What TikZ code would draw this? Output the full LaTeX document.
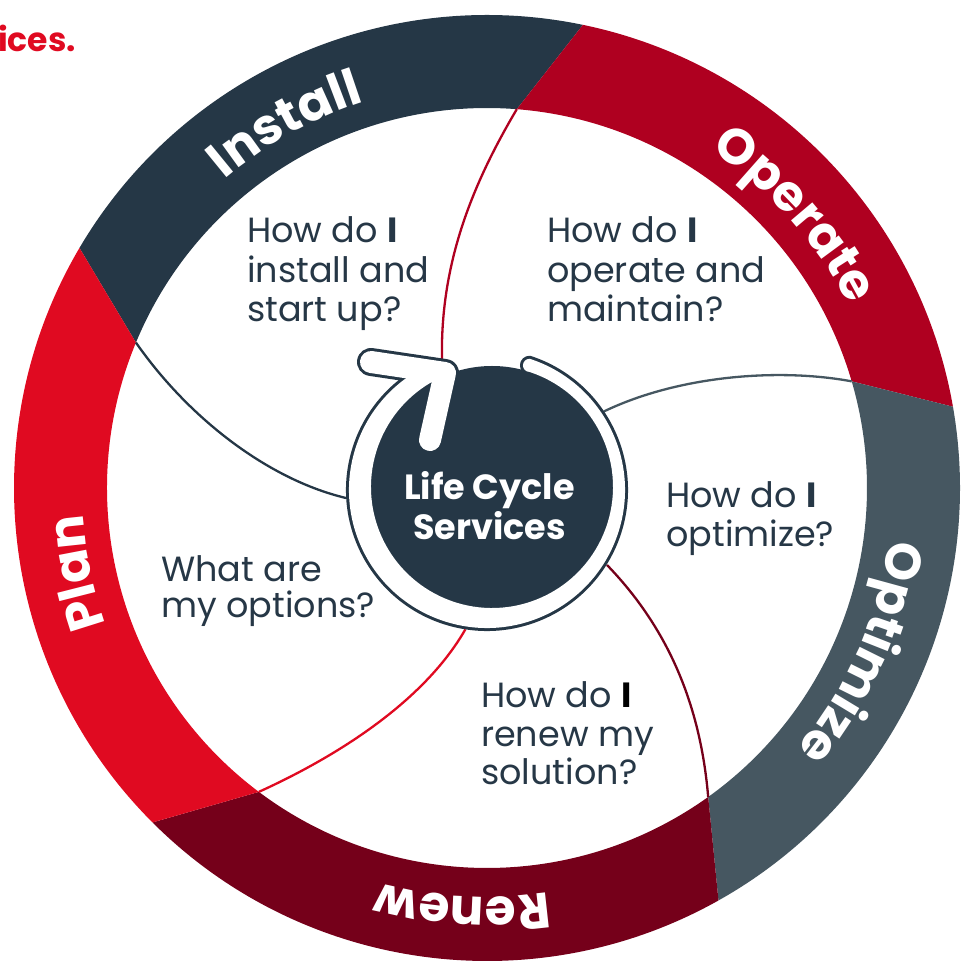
\documentclass[tikz,border=0pt]{standalone}
\usepackage{fontspec}
\setmainfont{Poppins}
\usetikzlibrary{decorations.text,calc}
\definecolor{cnavy}{HTML}{253746}
\definecolor{ccrimson}{HTML}{AF0020}
\definecolor{cslate}{HTML}{465761}
\definecolor{cmaroon}{HTML}{75001A}
\definecolor{cred}{HTML}{E00A21}
\definecolor{qnavy}{HTML}{263746}
\newcommand\lblfont{\bfseries\fontsize{50}{50}\selectfont}
\tikzset{
  qtext/.style={font=\fontsize{35}{39}\selectfont, text=qnavy, anchor=base west, inner sep=0pt},
  ctext/.style={font=\bfseries\fontsize{35}{40}\selectfont, text=white, anchor=base, inner sep=0pt},
  conn/.style={line width=2.3pt},
  seglabel/.style={decorate, decoration={text along path, text={|\lblfont|#1}, text align=center, text color=white}}
}
\begin{document}
\begin{tikzpicture}[x=1pt,y=1pt]
\useasboundingbox (-487,-475) rectangle (488,488);

% ring segments
\fill[cnavy] (149.5:473) arc[start angle=149.5,end angle=78.3,radius=473] -- (85.5:380) arc[start angle=85.5,end angle=157.5,radius=380] -- cycle;
\fill[ccrimson] (78.3:473) arc[start angle=78.3,end angle=9.9,radius=473] -- (16.3:380) arc[start angle=16.3,end angle=85.5,radius=380] -- cycle;
\fill[cslate] (9.9:473) arc[start angle=9.9,end angle=-60.7,radius=473] -- (-54.4:380) arc[start angle=-54.4,end angle=16.3,radius=380] -- cycle;
\fill[cmaroon] (-60.7:473) arc[start angle=-60.7,end angle=-135,radius=473] -- (-126.9:380) arc[start angle=-126.9,end angle=-54.4,radius=380] -- cycle;
\fill[cred] (-135:473) arc[start angle=-135,end angle=-210.5,radius=473] -- (-202.5:380) arc[start angle=-202.5,end angle=-126.9,radius=380] -- cycle;

% segment labels
\path[seglabel=Install] (159:405) arc[start angle=159,end angle=79,radius=405];
\path[seglabel=Operate] (81.6:405) arc[start angle=81.6,end angle=1.6,radius=405];
\path[seglabel=Optimize] (16.3:405) arc[start angle=16.3,end angle=-63.7,radius=405];
\path[seglabel=Renew] (-53.4:409) arc[start angle=-53.4,end angle=-133.4,radius=409];
\path[seglabel=Plan] (231.7:405) arc[start angle=231.7,end angle=151.7,radius=405];

% connector coordinates
\coordinate (b1) at (157.5:380);
\coordinate (b2) at (85.5:380);
\coordinate (b3) at (16.3:380);
\coordinate (b4) at (-54.4:380);
\coordinate (b5) at (-126.9:380);
\coordinate (e1) at (-141,-10);
\coordinate (e2) at (-45,129);
\coordinate (e3) at (117,76.6);
\coordinate (e4) at (120,-77);
\coordinate (e5) at (-21.6,-141.3);

\draw[conn, cnavy] (b1) .. controls (-297,68) and (-217,8) .. (e1);
\draw[conn, ccrimson] (b2) .. controls (-12,308) and (-47,228) .. (e2);
\draw[conn, cslate] (b3) .. controls (293,120) and (193,113) .. (e3);
\draw[conn, cmaroon] (b4) .. controls (213,-212) and (178,-137) .. (e4);
\draw[conn, cred] (b5) .. controls (-147,-267) and (-62,-212) .. (e5);

% center
\coordinate (O) at (0,-2);
\coordinate (D) at (5,1);
\coordinate (A) at (-116,126);
\coordinate (T) at (-42,115);
\coordinate (B) at (-57,48);
\fill[cnavy] (D) circle[radius=121];
\def\ringpath{($(O)+(72:138)$) arc[start angle=72,end angle=-245,radius=138] -- ($(D)+(115:121)$) arc[start angle=-245,end angle=72,radius=121] arc[start angle=269,end angle=89,radius=6.55] -- cycle}
\draw[cnavy, line width=6pt, line join=round] \ringpath;
\draw[cnavy, line width=28pt, line cap=round, line join=round] (A) -- (T) -- (B);
\fill[white] \ringpath;
\draw[white, line width=22pt, line cap=round, line join=round] (A) -- (T) -- (B);

\node[ctext] (lc1) at (2.5,-12) {Life Cycle};
\node[ctext] (lc2) at (2.5,-52) {Services};

% questions
\node[qtext] (q1a) at (-240,245) {How do {\bfseries I}};
\node[qtext] (q1b) at (-240,205) {install and};
\node[qtext] (q1c) at (-240,166) {start up?};
\node[qtext] (q2a) at (60,245) {How do {\bfseries I}};
\node[qtext] (q2b) at (60,205) {operate and};
\node[qtext] (q2c) at (60,166) {maintain?};
\node[qtext] (q3a) at (179,-20) {How do {\bfseries I}};
\node[qtext] (q3b) at (179,-59) {optimize?};
\node[qtext] (q4a) at (-326,-94) {What are};
\node[qtext] (q4b) at (-326,-130) {my options?};
\node[qtext] (q5a) at (-6,-220) {How do {\bfseries\color{black}I}};
\node[qtext] (q5b) at (-6,-259) {renew my};
\node[qtext] (q5c) at (-6,-297) {solution?};

\node[font=\bfseries\fontsize{33}{35}\selectfont, text=cred, anchor=base west, inner sep=0pt] (ices) at (-489,436) {ices.};
\end{tikzpicture}
\end{document}
